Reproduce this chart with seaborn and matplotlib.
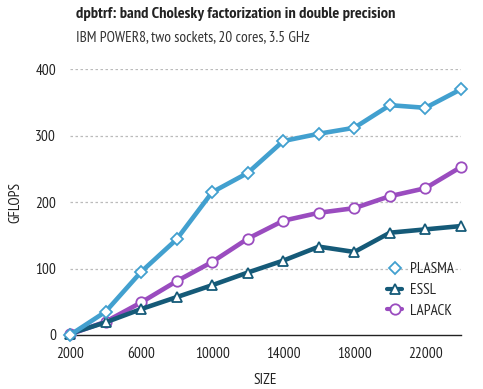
import matplotlib
matplotlib.use("Agg")
import matplotlib.pyplot as plt
import seaborn as sns
import pandas as pd
from matplotlib.lines import Line2D

sizes = [2000, 4000, 6000, 8000, 10000, 12000, 14000, 16000, 18000, 20000, 22000, 24000]
plasma = [0, 35, 95, 144, 215, 244, 292, 303, 312, 346, 342, 370]
essl = [2, 19, 39, 57, 75, 94, 112, 133, 125, 154, 159, 164]
lapack = [1, 20, 49, 81, 110, 145, 172, 184, 191, 209, 221, 253]
series_names = ["PLASMA", "ESSL", "LAPACK"]
xticks = [2000, 6000, 10000, 14000, 18000, 22000]
yticks = [0, 100, 200, 300, 400]

title = "dpbtrf: band Cholesky factorization in double precision"
subtitle = "IBM POWER8, two sockets, 20 cores, 3.5 GHz"

df = pd.DataFrame({
    "SIZE": sizes * 3,
    "GFLOPS": plasma + essl + lapack,
    "lib": [series_names[0]] * len(sizes) + [series_names[1]] * len(sizes) + [series_names[2]] * len(sizes),
})

sns.set_theme(style="white")
plt.rcParams["font.family"] = ["PT Sans Narrow", "Fira Sans Condensed", "DejaVu Sans"]

colors = {"PLASMA": "#42a0cf", "ESSL": "#155a78", "LAPACK": "#9a4cbf"}
markers = {"PLASMA": "D", "ESSL": "^", "LAPACK": "o"}
msizes = {"PLASMA": 6, "ESSL": 7.5, "LAPACK": 7.5}

fig = plt.figure(figsize=(4.83, 3.89), dpi=100)
ax = fig.add_axes([70 / 483, 1 - 335 / 389, (461 - 70) / 483, (335 - 69.3) / 389])

for name in ["LAPACK", "ESSL", "PLASMA"]:
    sub = df[df["lib"] == name]
    sns.lineplot(data=sub, x="SIZE", y="GFLOPS", ax=ax, color=colors[name], linewidth=3.3,
                 marker=markers[name], markersize=msizes[name], markerfacecolor="white",
                 markeredgecolor=colors[name], markeredgewidth=1.3, clip_on=False,
                 legend=False, zorder=3)

ax.set_xlim(2000, 24000)
ax.set_ylim(0, 400)
ax.set_xticks(xticks)
ax.set_xticklabels([str(t) for t in xticks])
ax.set_yticks(yticks)
ax.set_yticklabels([str(t) for t in yticks])
ax.tick_params(axis="both", length=0, labelsize=11, colors="#222222")
ax.tick_params(axis="x", pad=9)
ax.tick_params(axis="y", pad=10)

for y in yticks[1:]:
    ax.axhline(y, color="#bbbbbb", linewidth=0.9, linestyle=(0, (2, 2)), zorder=1)

for s in ["top", "right", "left"]:
    ax.spines[s].set_visible(False)
ax.spines["bottom"].set_color("#222222")
ax.spines["bottom"].set_linewidth(1.0)

ax.set_xlabel("SIZE", fontsize=11, color="#222222", labelpad=8)
ax.set_ylabel("GFLOPS", fontsize=11, color="#222222", labelpad=9)

handles = [
    Line2D([], [], color="white", linewidth=0, marker="D", markersize=6, markerfacecolor="white",
           markeredgecolor=colors["PLASMA"], markeredgewidth=1.3),
    Line2D([], [], color=colors["ESSL"], linewidth=3, marker="^", markersize=7.5, markerfacecolor="white",
           markeredgecolor=colors["ESSL"], markeredgewidth=1.3),
    Line2D([], [], color=colors["LAPACK"], linewidth=3, marker="o", markersize=7.5, markerfacecolor="white",
           markeredgecolor=colors["LAPACK"], markeredgewidth=1.3),
]
ax.legend(handles, series_names, loc="upper left", bbox_to_anchor=(387 / 483, 1 - 262 / 389),
          bbox_transform=fig.transFigure, frameon=False, handlelength=1.0, handletextpad=0.5,
          labelspacing=0.45, fontsize=11, borderaxespad=0, borderpad=0)

fig.text(76 / 483, 1 - 14 / 389, title, fontsize=11.8, fontweight="bold", color="#222222", va="center", ha="left")
fig.text(76 / 483, 1 - 37 / 389, subtitle, fontsize=11, color="#333333", va="center", ha="left")

fig.savefig("out.png", dpi=100)
